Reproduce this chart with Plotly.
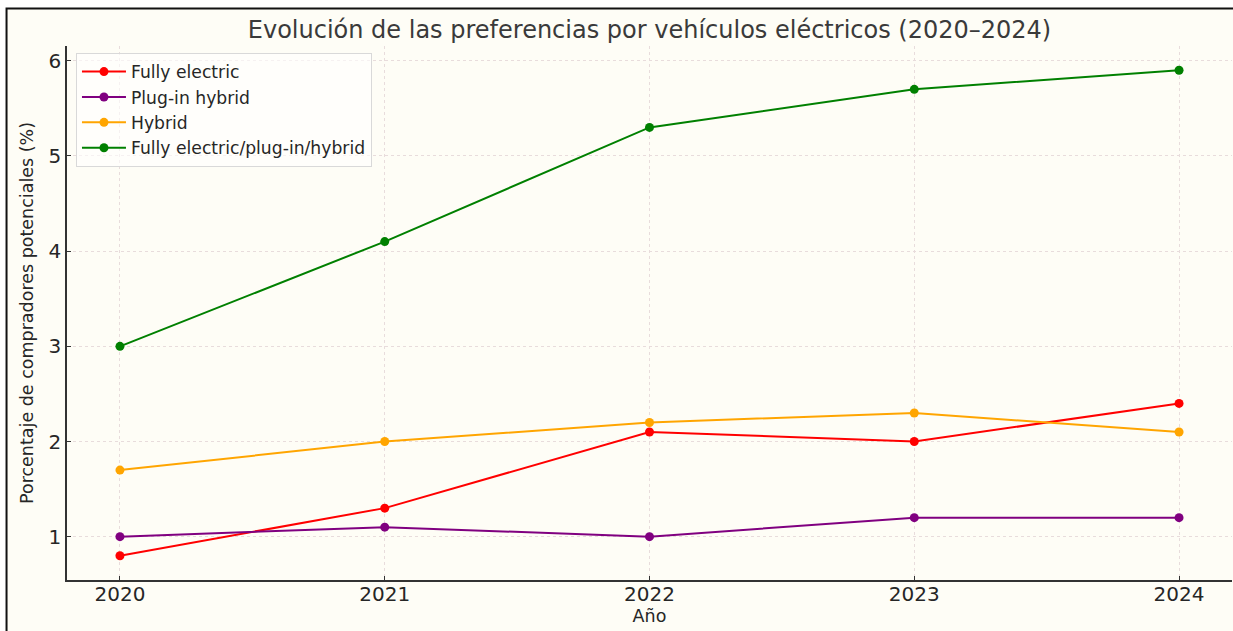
import plotly.graph_objects as go

# Datos
anios = [2020, 2021, 2022, 2023, 2024]
fully_electric = [0.8, 1.3, 2.1, 2.0, 2.4]
plug_in_hybrid = [1.0, 1.1, 1.0, 1.2, 1.2]
hybrid = [1.7, 2.0, 2.2, 2.3, 2.1]
total_electric = [3.0, 4.1, 5.3, 5.7, 5.9]

series = [
    ('Fully electric', fully_electric, 'red'),
    ('Plug-in hybrid', plug_in_hybrid, 'purple'),
    ('Hybrid', hybrid, 'orange'),
    ('Fully electric/plug-in/hybrid', total_electric, 'green'),
]

fondo = '#fefdf6'

fig = go.Figure()
for nombre, valores, color in series:
    fig.add_trace(go.Scatter(
        x=anios,
        y=valores,
        mode='lines+markers',
        name=nombre,
        line=dict(color=color, width=2),
        marker=dict(size=9, color=color)
    ))

# Marco negro del lienzo (recortado a la derecha y abajo)
fig.add_shape(
    type='rect', xref='paper', yref='paper',
    x0=-0.0519, x1=1.2, y0=-0.3, y1=1.0702,
    fillcolor=fondo, line=dict(color='#111111', width=2), layer='below'
)

fig.update_layout(
    width=1233,
    height=631,
    paper_bgcolor='white',
    plot_bgcolor='rgba(0,0,0,0)',
    font=dict(family='DejaVu Sans', color='#262626', size=17),
    title=dict(
        text='Evolución de las preferencias por vehículos eléctricos (2020–2024)',
        x=0.5, xref='paper', xanchor='center',
        y=0.953, yref='container', yanchor='middle',
        font=dict(size=24, color='#3a3a3a')
    ),
    margin=dict(l=67, r=1, t=46, b=51),
    showlegend=True,
    legend=dict(
        x=0.0077, y=0.987, xanchor='left', yanchor='top',
        bgcolor='rgba(255,255,255,0.6)',
        bordercolor='#d9d9d9', borderwidth=1,
        font=dict(size=17.2, color='#262626'),
        tracegroupgap=0, itemwidth=44
    )
)

grid = dict(showgrid=True, gridcolor='#e8dcdc', griddash='3px,3px', gridwidth=1, zeroline=False)

fig.update_xaxes(
    range=[2019.8, 2024.2],
    tickvals=anios,
    ticktext=[str(a) for a in anios],
    title=dict(text='Año', font=dict(size=17.5), standoff=0),
    tickfont=dict(size=20, color='#262626'),
    ticklabelstandoff=-5,
    showline=True, linecolor='#333333', linewidth=1.5,
    ticks='inside', ticklen=4, tickcolor='#333333',
    **grid
)
fig.update_yaxes(
    range=[0.545, 6.155],
    tickvals=[1, 2, 3, 4, 5, 6],
    title=dict(text='Porcentaje de compradores potenciales (%)', font=dict(size=17.5), standoff=10),
    tickfont=dict(size=20, color='#262626'),
    showline=True, linecolor='#333333', linewidth=1.5,
    ticks='inside', ticklen=4, tickcolor='#333333',
    **grid
)

# quitar el margen por defecto del body para que la figura ocupe la ventana
fig.write_html('out.html', config={'displayModeBar': False},
               post_script="document.body.style.margin='0';")
